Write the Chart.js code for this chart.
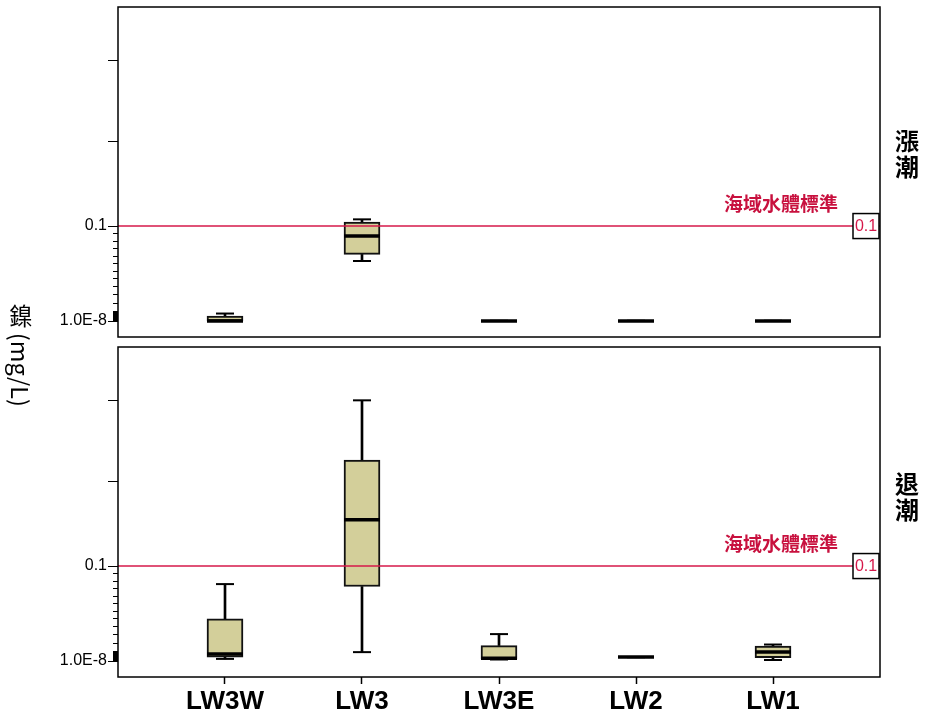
<!DOCTYPE html>
<html><head><meta charset="utf-8">
<script src="https://cdn.jsdelivr.net/npm/chart.js@4.4.1/dist/chart.umd.min.js"></script>
<style>
html,body{margin:0;padding:0;background:#fff;}
#wrap{position:relative;width:925px;height:726px;overflow:hidden;background:#fff;}
canvas{position:absolute;left:0;}
#c1{top:0;} #c2{top:340px;}
.side{position:absolute;left:894px;font-family:"Noto Sans CJK TC","Noto Sans CJK SC";font-weight:bold;font-size:24px;line-height:26px;width:26px;text-align:center;color:#000;}
#ytitle{position:absolute;left:8px;top:304px;writing-mode:vertical-rl;font-family:"Noto Sans CJK TC","Liberation Sans";font-size:23.5px;line-height:25px;color:#000;white-space:nowrap;}
</style></head>
<body>
<div id="wrap">
<canvas id="c1" width="925" height="340"></canvas>
<canvas id="c2" width="925" height="386"></canvas>
<div id="ytitle">鎳 (mg/L)</div>
<div class="side" id="s1" style="top:127px;"></div>
<div class="side" id="s2" style="top:470px;"></div>
</div>
<script>
// ---- data ----
const categories = ['LW3W', 'LW3', 'LW3E', 'LW2', 'LW1'];
const panelLabels = ['漲潮', '退潮'];

const floodMin    = [1e-8,   0.0607, 1e-8, 1e-8, 1e-8];
const floodQ1     = [1e-8,   0.0680, 1e-8, 1e-8, 1e-8];
const floodMedian = [1e-8,   0.0886, 1e-8, 1e-8, 1e-8];
const floodQ3     = [0.0038, 0.1046, 1e-8, 1e-8, 1e-8];
const floodMax    = [0.0062, 0.1077, 1e-8, 1e-8, 1e-8];

const ebbMin    = [0.0015, 0.0075, 0.0010, 0.0030, 0.0006];
const ebbQ1     = [0.0030, 0.0768, 0.0015, 0.0030, 0.0026];
const ebbMedian = [0.0058, 0.1540, 0.0021, 0.0030, 0.0077];
const ebbQ3     = [0.0413, 0.2260, 0.0138, 0.0030, 0.0132];
const ebbMax    = [0.0795, 0.3000, 0.0253, 0.0030, 0.0148];

const standardValue = 0.1;
const standardLabel = '海域水體標準';
const standardTag = '0.1';

const yTickValues = [1e-8, 0.0005, 0.0012, 0.002, 0.0028, 0.0036, 0.0045, 0.0054, 0.0063, 0.0073,
  0.0083, 0.0167, 0.025, 0.0333, 0.0417, 0.05, 0.0583, 0.0667, 0.075, 0.0833, 0.0917, 0.1, 0.2, 0.3];
const yTickLabels = ['1.0E-8', '', '', '', '', '', '', '', '', '',
  '', '', '', '', '', '', '', '', '', '', '', '0.1', '', ''];
const yTickMajor = [true, false, false, false, false, false, false, false, false, false,
  false, false, false, false, false, false, false, false, false, false, false, true, true, true];

// ---- axis transform (power scale as in the source chart) ----
const POWER = 0.92;
function tr(v) { return Math.pow(v / 0.1, POWER); }
const Y_MIN = -0.17, Y_MAX = 3.31;
const X_MIN = 0.219, X_MAX = 5.781;

document.getElementById('s1').innerHTML = panelLabels[0].split('').join('<br>');
document.getElementById('s2').innerHTML = panelLabels[1].split('').join('<br>');

const BOX_FILL = '#d3cf9a';
const RED = '#d6184a';
const RED_TEXT = '#c8103e';

function makeDatasets(mn, q1, md, q3, mx) {
  const xs = categories.map((c, i) => i + 1);
  return [
    { type: 'line', data: [{x: X_MIN, y: tr(standardValue)}, {x: X_MAX, y: tr(standardValue)}],
      borderColor: RED, borderWidth: 1.5, pointRadius: 0, order: 0 },
    { type: 'line', showLine: false, order: 1,
      data: xs.map((x, i) => ({x, y: tr(md[i])})),
      pointStyle: 'line', pointRadius: 18, pointBorderWidth: 3.5, pointBorderColor: '#000', pointBackgroundColor: '#000' },
    { type: 'line', showLine: false, order: 2,
      data: xs.map((x, i) => ({x, y: tr(mn[i])})).concat(xs.map((x, i) => ({x, y: tr(mx[i])}))),
      pointStyle: 'line', pointRadius: 9, pointBorderWidth: 2, pointBorderColor: '#000', pointBackgroundColor: '#000' },
    { type: 'bar', order: 3, grouped: false, barThickness: 36,
      data: xs.map((x, i) => ({x, y: [tr(q1[i]), tr(q3[i])]})),
      backgroundColor: BOX_FILL, borderColor: '#111', borderWidth: 2, borderSkipped: false },
    { type: 'bar', order: 4, grouped: false, barThickness: 2,
      data: xs.map((x, i) => ({x, y: [tr(mn[i]), tr(q1[i])]})),
      backgroundColor: '#000', borderWidth: 0 },
    { type: 'bar', order: 4, grouped: false, barThickness: 2,
      data: xs.map((x, i) => ({x, y: [tr(q3[i]), tr(mx[i])]})),
      backgroundColor: '#000', borderWidth: 0 }
  ];
}

const framePlugin = {
  id: 'frameTicks',
  afterDraw(chart) {
    const ctx = chart.ctx, a = chart.chartArea, ys = chart.scales.y;
    ctx.save();
    ctx.strokeStyle = '#000';
    ctx.lineWidth = 1;
    ys.ticks.forEach((t, i) => {
      const py = Math.round(ys.getPixelForValue(t.value)) + 0.5;
      const len = yTickMajor[i] ? 10 : 5;
      ctx.beginPath();
      ctx.moveTo(a.left - len, py);
      ctx.lineTo(a.left, py);
      ctx.stroke();
    });
    ctx.lineWidth = 1.5;
    ctx.strokeRect(a.left, a.top, a.right - a.left, a.bottom - a.top);
    ctx.restore();
  }
};

const standardPlugin = {
  id: 'standardTag',
  afterDatasetsDraw(chart) {
    const ctx = chart.ctx, a = chart.chartArea, ys = chart.scales.y;
    const py = ys.getPixelForValue(tr(standardValue));
    ctx.save();
    ctx.fillStyle = RED_TEXT;
    ctx.font = 'bold 19px "Noto Sans CJK TC"';
    ctx.textAlign = 'right';
    ctx.textBaseline = 'middle';
    ctx.fillText(standardLabel, a.right - 42, py - 22);
    const bx = a.right - 27, bw = 26, bh = 25;
    ctx.fillStyle = '#fff';
    ctx.fillRect(bx, py - bh / 2, bw, bh);
    ctx.strokeStyle = '#000';
    ctx.lineWidth = 1.5;
    ctx.strokeRect(bx, py - bh / 2, bw, bh);
    ctx.fillStyle = RED;
    ctx.font = '16px "Liberation Sans"';
    ctx.textAlign = 'center';
    ctx.fillText(standardTag, bx + bw / 2, py + 1);
    ctx.restore();
  }
};

function makeChart(id, datasets, showX, padTop, padBottom) {
  return new Chart(document.getElementById(id), {
    type: 'bar',
    data: { datasets },
    plugins: [standardPlugin, framePlugin],
    options: {
      responsive: false, animation: false, devicePixelRatio: 1,
      layout: { autoPadding: false, padding: { left: 0, right: 45, top: padTop, bottom: padBottom } },
      plugins: { legend: { display: false }, tooltip: { enabled: false } },
      events: [],
      scales: {
        x: {
          type: 'linear', min: X_MIN, max: X_MAX, offset: false, display: showX,
          afterBuildTicks: s => { s.ticks = categories.map((c, i) => ({ value: i + 1 })); },
          ticks: { autoSkip: false, maxRotation: 0, padding: 2, color: '#000',
            font: { family: 'Liberation Sans', size: 26, weight: 'bold' },
            callback: v => categories[Math.round(v) - 1] },
          grid: { display: true, offset: false, drawOnChartArea: false, drawTicks: true, tickLength: 7, tickColor: '#000', tickWidth: 1.5 },
          border: { display: false },
          afterFit: s => { s.height = showX ? 49 : 0; s.paddingLeft = 0; s.paddingRight = 0; }
        },
        y: {
          type: 'linear', min: Y_MIN, max: Y_MAX,
          afterBuildTicks: s => { s.ticks = yTickValues.map(v => ({ value: tr(v) })); },
          ticks: { autoSkip: false, padding: 1, color: '#000',
            font: { family: 'Liberation Sans', size: 16 },
            callback: (v, i) => yTickLabels[i] },
          grid: { display: true, drawOnChartArea: false, drawTicks: true, tickLength: 10, tickColor: 'rgba(0,0,0,0)' },
          border: { display: false },
          afterFit: s => { s.width = 118; s.paddingTop = 0; s.paddingBottom = 0; }
        }
      }
    }
  });
}

makeChart('c1', makeDatasets(floodMin, floodQ1, floodMedian, floodQ3, floodMax), false, 7, 3);
makeChart('c2', makeDatasets(ebbMin, ebbQ1, ebbMedian, ebbQ3, ebbMax), true, 7, 0);
</script>
</body></html>
